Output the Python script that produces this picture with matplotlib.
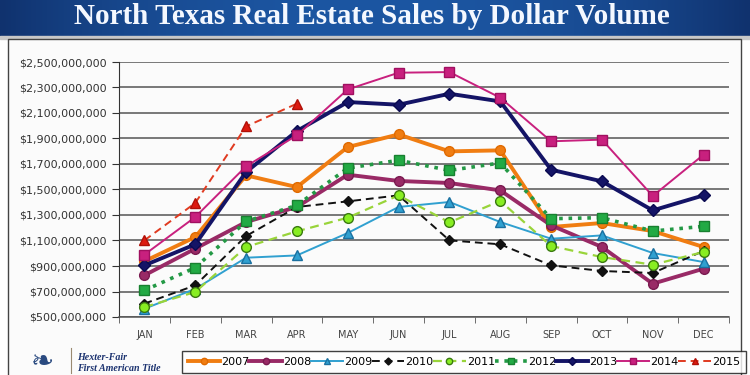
import numpy as np
import matplotlib
matplotlib.use("Agg")
import matplotlib.pyplot as plt
from matplotlib.ticker import FuncFormatter
from matplotlib.patches import Rectangle
from matplotlib.lines import Line2D

months = ["JAN", "FEB", "MAR", "APR", "MAY", "JUN", "JUL", "AUG", "SEP", "OCT", "NOV", "DEC"]
title = "North Texas Real Estate Sales by Dollar Volume"

# values in millions of dollars
s2007 = [937, 1127, 1611, 1519, 1833, 1932, 1799, 1807, 1206, 1237, 1174, 1049]
s2008 = [827, 1036, 1245, 1363, 1616, 1567, 1551, 1493, 1219, 1049, 761, 879]
s2009 = [565, 720, 965, 983, 1159, 1363, 1402, 1245, 1114, 1140, 1002, 931]
s2010 = [605, 748, 1135, 1363, 1407, 1454, 1101, 1070, 905, 861, 845, 1018]
s2011 = [578, 696, 1049, 1172, 1279, 1454, 1242, 1410, 1057, 970, 910, 1010]
s2012 = [709, 887, 1250, 1376, 1668, 1729, 1650, 1708, 1271, 1279, 1174, 1211]
s2013 = [905, 1070, 1637, 1959, 2186, 2165, 2251, 2191, 1655, 1564, 1336, 1454]
s2014 = [989, 1284, 1682, 1925, 2285, 2416, 2421, 2220, 1878, 1891, 1449, 1773]
s2015 = [1101, 1394, 1995, 2173]

yticks = [500, 700, 900, 1100, 1300, 1500, 1700, 1900, 2100, 2300, 2500]

series = [
    ("2007", s2007, dict(color="#f07d12", lw=2.8, ls="-", marker="o", ms=7, mfc="#f07d12", mec="#e06a00")),
    ("2008", s2008, dict(color="#992a66", lw=2.8, ls="-", marker="o", ms=7, mfc="#992a66", mec="#7a1a50")),
    ("2009", s2009, dict(color="#30a0d0", lw=1.4, ls="-", marker="^", ms=7, mfc="#30a0d0", mec="#1a70a0")),
    ("2010", s2010, dict(color="#111111", lw=1.4, ls=(0, (4, 2.5)), marker="D", ms=5.5, mfc="#111111", mec="#111111")),
    ("2011", s2011, dict(color="#99d43a", lw=1.6, ls=(0, (4, 2.5)), marker="o", ms=7, mfc="#88ee22", mec="#3a7a10")),
    ("2012", s2012, dict(color="#239945", lw=2.6, ls=(0, (1, 1.6)), marker="s", ms=6.5, mfc="#22aa44", mec="#188030")),
    ("2013", s2013, dict(color="#141466", lw=2.8, ls="-", marker="D", ms=6, mfc="#141466", mec="#0a0a50")),
    ("2014", s2014, dict(color="#c8207e", lw=1.4, ls="-", marker="s", ms=6.5, mfc="#c8207e", mec="#a01060")),
    ("2015", s2015, dict(color="#e03a20", lw=1.4, ls=(0, (4, 2.5)), marker="^", ms=7, mfc="#dd1a10", mec="#b01008")),
]

fig = plt.figure(figsize=(7.5, 3.75), dpi=100)
fig.patch.set_facecolor("white")

# banner background
bg = fig.add_axes([0, 0, 1, 1], zorder=-10)
bg.set_xlim(0, 750)
bg.set_ylim(375, 0)
bg.axis("off")
xs = np.linspace(-1, 1, 300)
g = 1 - np.abs(xs) ** 2.2
c0 = np.array([0x10, 0x32, 0x6e]) / 255
c1 = np.array([0x1c, 0x56, 0xa2]) / 255
grad = c0[None, :] * (1 - g[:, None]) + c1[None, :] * g[:, None]
bg.imshow(grad[None, :, :], extent=[0, 750, 36, 0], aspect="auto", zorder=0)
bg.add_patch(Rectangle((0, 36), 750, 3, color="#c8c8c8", zorder=1))
bg.add_patch(Rectangle((8, 38.5), 733, 340, facecolor="#fbfbfb", edgecolor="#444444", lw=1.0, zorder=2))
bg.text(372, 16.5, title, color="#f4f8ff", fontsize=21, family="Liberation Serif",
        fontweight="bold", ha="center", va="center", zorder=3)
# logo text
bg.plot([71, 71], [348, 373], color="#9a8a70", lw=0.8, zorder=3)
bg.text(77, 357, "Hexter-Fair", color="#1c3370", fontsize=7.2, family="Liberation Serif",
        style="italic", fontweight="bold", va="center", zorder=3)
bg.text(77, 368.5, "First American Title", color="#1c3370", fontsize=7.2, family="Liberation Serif",
        style="italic", fontweight="bold", va="center", zorder=3)
bg.text(42, 362, "\u2767", color="#2a4a80", fontsize=20, ha="center", va="center",
        family="DejaVu Sans", zorder=3)

ax = fig.add_axes([119 / 750, 1 - 317 / 375, (729 - 119) / 750, (317 - 62) / 375])
ax.set_facecolor("none")
x = np.arange(len(months))
handles = []
for name, vals, st in series:
    ax.plot(x[:len(vals)], vals, label=name, zorder=3, **st)
    handles.append(Line2D([0], [0], color=st["color"], lw=st["lw"], ls=st["ls"], marker=st["marker"],
                          ms=st["ms"] * 0.65, mfc=st["mfc"], mec=st["mec"]))

ax.set_xlim(-0.5, 11.5)
ax.set_ylim(500, 2500)
ax.set_yticks(yticks)
ax.yaxis.set_major_formatter(FuncFormatter(lambda v, p: "${:,.0f}".format(v * 1e6)))
ax.set_xticks(x)
ax.set_xticklabels(months)
ax.set_xticks(np.arange(-0.5, 12, 1), minor=True)
ax.tick_params(axis="x", which="major", length=0, labelsize=7, labelcolor="#444444", pad=9)
ax.tick_params(axis="x", which="minor", length=4, direction="out", color="#555555")
ax.tick_params(axis="y", length=5, direction="out", color="#333333", labelsize=8, labelcolor="#333333", pad=4)
ax.grid(axis="y", color="#555555", lw=1.1, zorder=0)
for s in ["top", "right"]:
    ax.spines[s].set_visible(False)
ax.spines["left"].set_color("#333333")
ax.spines["bottom"].set_color("#555555")
ax.spines["bottom"].set_linewidth(1.1)

leg = fig.legend(handles, [s[0] for s in series], ncol=9, loc="lower left",
                 bbox_to_anchor=(182 / 750, 2 / 375, (746 - 182) / 750, 25 / 375),
                 mode="expand", frameon=True, fontsize=8, handlelength=2.9, handletextpad=0.1,
                 columnspacing=0.2, borderpad=0.55, fancybox=False, borderaxespad=0)
leg.get_frame().set_edgecolor("#111111")
leg.get_frame().set_linewidth(1.0)
leg.get_frame().set_facecolor("white")

fig.savefig("out.png", dpi=100)
